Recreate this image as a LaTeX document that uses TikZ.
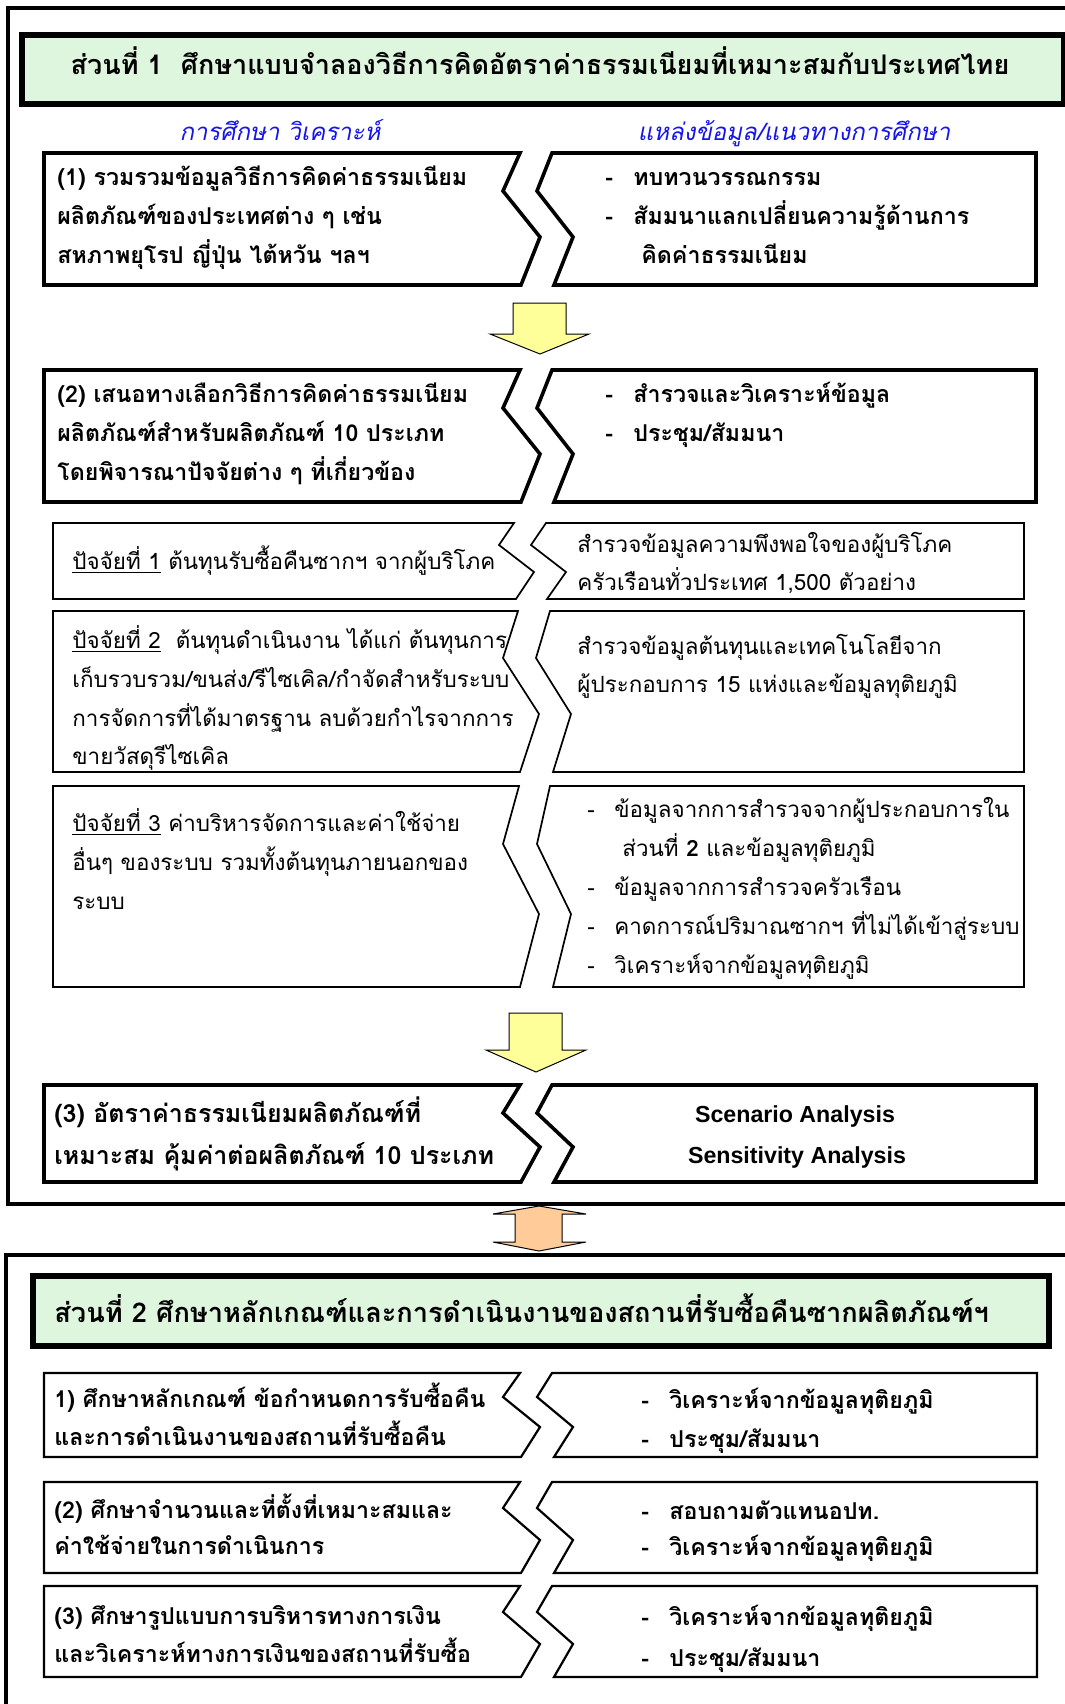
\documentclass[tikz,border=0pt]{standalone}
\usepackage{fontspec}
\usepackage{xcolor}
\usepackage{tikz}
\usetikzlibrary{backgrounds}
\newfontfamily\thaifont[Script=Thai]{Loma}
\newfontfamily\thaiitfont[Script=Thai,FakeSlant=0.2]{Loma}
\newfontfamily\latinfont{Liberation Sans}
\definecolor{titlegreen}{RGB}{222,245,222}
\definecolor{headblue}{RGB}{20,20,235}
\definecolor{arrowyellow}{RGB}{255,255,153}
\definecolor{arroworange}{RGB}{255,204,153}
\pgfdeclarelayer{edgelayer}
\pgfdeclarelayer{nodelayer}
\pgfsetlayers{background,edgelayer,nodelayer,main}
\tikzstyle{none}=[inner sep=0mm]
\tikzstyle{txt}=[inner sep=0mm,anchor=mid west,yshift=-2.2pt,font=\thaifont\fontsize{11.2}{14}\selectfont]
\tikzstyle{bold txt}=[txt,font=\thaifont\bfseries\fontsize{11.6}{14}\selectfont]
\tikzstyle{big txt}=[txt,font=\thaifont\bfseries\fontsize{12.5}{15}\selectfont]
\tikzstyle{title}=[inner sep=0mm,anchor=mid,yshift=-2.5pt,font=\thaifont\bfseries\fontsize{13.5}{16}\selectfont]
\tikzstyle{sub head}=[inner sep=0mm,anchor=mid,yshift=-1.5pt,text=headblue,font=\thaiitfont\fontsize{12}{14}\selectfont]
\tikzstyle{latin txt}=[inner sep=0mm,anchor=mid,yshift=-1pt,font=\latinfont\bfseries\fontsize{11.6}{14}\selectfont]
\tikzstyle{frame}=[draw=black,line width=2pt]
\tikzstyle{title box}=[draw=black,line width=3.2pt,fill=titlegreen]
\tikzstyle{main box}=[draw=black,line width=1.8pt,fill=white]
\tikzstyle{factor box}=[draw=black,line width=0.85pt,fill=white]
\tikzstyle{part box}=[draw=black,line width=1.1pt,fill=white]
\tikzstyle{down arrow}=[draw=black,line width=0.5pt,fill=arrowyellow]
\tikzstyle{both arrow}=[draw=black,line width=0.5pt,fill=arroworange]

\begin{document}
\begin{tikzpicture}[x=0.5pt,y=-0.5pt]
	\useasboundingbox (0,0) rectangle (1065,1704);
	\begin{pgfonlayer}{nodelayer}
		% part 1
		\node [style=title] (0) at (540,65) {ส่วนที่ 1 \ ศึกษาแบบจำลองวิธีการคิดอัตราค่าธรรมเนียมที่เหมาะสมกับประเทศไทย};
		\node [style=sub head] (1) at (280,133) {การศึกษา วิเคราะห์};
		\node [style=sub head] (2) at (794,133) {แหล่งข้อมูล/แนวทางการศึกษา};
		\node [style=bold txt] (3) at (57,177) {(1) รวมรวมข้อมูลวิธีการคิดค่าธรรมเนียม};
		\node [style=bold txt] (4) at (57,216) {ผลิตภัณฑ์ของประเทศต่าง ๆ เช่น};
		\node [style=bold txt] (5) at (57,255) {สหภาพยุโรป ญี่ปุ่น ไต้หวัน ฯลฯ};
		\node [style=bold txt] (6) at (605,177) {-};
		\node [style=bold txt] (7) at (633,177) {ทบทวนวรรณกรรม};
		\node [style=bold txt] (8) at (605,216) {-};
		\node [style=bold txt] (9) at (633,216) {สัมมนาแลกเปลี่ยนความรู้ด้านการ};
		\node [style=bold txt] (10) at (641,255) {คิดค่าธรรมเนียม};
		\node [style=bold txt] (11) at (57,394) {(2) เสนอทางเลือกวิธีการคิดค่าธรรมเนียม};
		\node [style=bold txt] (12) at (57,433) {ผลิตภัณฑ์สำหรับผลิตภัณฑ์ 10 ประเภท};
		\node [style=bold txt] (13) at (57,472) {โดยพิจารณาปัจจัยต่าง ๆ ที่เกี่ยวข้อง};
		\node [style=bold txt] (14) at (605,394) {-};
		\node [style=bold txt] (15) at (633,394) {สำรวจและวิเคราะห์ข้อมูล};
		\node [style=bold txt] (16) at (605,433) {-};
		\node [style=bold txt] (17) at (633,433) {ประชุม/สัมมนา};
		\node [style=txt] (18) at (72,561) {\underline{ปัจจัยที่ 1} ต้นทุนรับซื้อคืนซากฯ จากผู้บริโภค};
		\node [style=txt] (19) at (577,544) {สำรวจข้อมูลความพึงพอใจของผู้บริโภค};
		\node [style=txt] (20) at (577,582) {ครัวเรือนทั่วประเทศ 1,500 ตัวอย่าง};
		\node [style=txt] (21) at (72,640) {\underline{ปัจจัยที่ 2} \ ต้นทุนดำเนินงาน ได้แก่ ต้นทุนการ};
		\node [style=txt] (22) at (72,679) {เก็บรวบรวม/ขนส่ง/รีไซเคิล/กำจัดสำหรับระบบ};
		\node [style=txt] (23) at (72,718) {การจัดการที่ได้มาตรฐาน ลบด้วยกำไรจากการ};
		\node [style=txt] (24) at (72,756) {ขายวัสดุรีไซเคิล};
		\node [style=txt] (25) at (577,646) {สำรวจข้อมูลต้นทุนและเทคโนโลยีจาก};
		\node [style=txt] (26) at (577,684) {ผู้ประกอบการ 15 แห่งและข้อมูลทุติยภูมิ};
		\node [style=txt] (27) at (72,823) {\underline{ปัจจัยที่ 3} ค่าบริหารจัดการและค่าใช้จ่าย};
		\node [style=txt] (28) at (72,862) {อื่นๆ ของระบบ รวมทั้งต้นทุนภายนอกของ};
		\node [style=txt] (29) at (72,901) {ระบบ};
		\node [style=txt] (30) at (587,809) {-};
		\node [style=txt] (31) at (614,809) {ข้อมูลจากการสำรวจจากผู้ประกอบการใน};
		\node [style=txt] (32) at (622,848) {ส่วนที่ \textbf{2} และข้อมูลทุติยภูมิ};
		\node [style=txt] (33) at (587,887) {-};
		\node [style=txt] (34) at (614,887) {ข้อมูลจากการสำรวจครัวเรือน};
		\node [style=txt] (35) at (587,926) {-};
		\node [style=txt] (36) at (614,926) {คาดการณ์ปริมาณซากฯ ที่ไม่ได้เข้าสู่ระบบ};
		\node [style=txt] (37) at (587,965) {-};
		\node [style=txt] (38) at (614,965) {วิเคราะห์จากข้อมูลทุติยภูมิ};
		\node [style=big txt] (39) at (54,1114) {(3) อัตราค่าธรรมเนียมผลิตภัณฑ์ที่};
		\node [style=big txt] (40) at (54,1156) {เหมาะสม คุ้มค่าต่อผลิตภัณฑ์ 10 ประเภท};
		\node [style=latin txt] (41) at (795,1116) {Scenario Analysis};
		\node [style=latin txt] (42) at (797,1157) {Sensitivity Analysis};
		% part 2
		\node [style=bold txt,font=\thaifont\bfseries\fontsize{13.6}{16}\selectfont] (43) at (54,1314) {ส่วนที่ 2 ศึกษาหลักเกณฑ์และการดำเนินงานของสถานที่รับซื้อคืนซากผลิตภัณฑ์ฯ};
		\node [style=bold txt] (44) at (54,1399) {1) ศึกษาหลักเกณฑ์ ข้อกำหนดการรับซื้อคืน};
		\node [style=bold txt] (45) at (54,1437) {และการดำเนินงานของสถานที่รับซื้อคืน};
		\node [style=bold txt] (46) at (641,1400) {-};
		\node [style=bold txt] (47) at (669,1400) {วิเคราะห์จากข้อมูลทุติยภูมิ};
		\node [style=bold txt] (48) at (641,1439) {-};
		\node [style=bold txt] (49) at (669,1439) {ประชุม/สัมมนา};
		\node [style=bold txt] (50) at (54,1510) {(2) ศึกษาจำนวนและที่ตั้งที่เหมาะสมและ};
		\node [style=bold txt] (51) at (54,1546) {ค่าใช้จ่ายในการดำเนินการ};
		\node [style=bold txt] (52) at (641,1511) {-};
		\node [style=bold txt] (53) at (669,1511) {สอบถามตัวแทนอปท.};
		\node [style=bold txt] (54) at (641,1547) {-};
		\node [style=bold txt] (55) at (669,1547) {วิเคราะห์จากข้อมูลทุติยภูมิ};
		\node [style=bold txt] (56) at (54,1616) {(3) ศึกษารูปแบบการบริหารทางการเงิน};
		\node [style=bold txt] (57) at (54,1654) {และวิเคราะห์ทางการเงินของสถานที่รับซื้อ};
		\node [style=bold txt] (58) at (641,1617) {-};
		\node [style=bold txt] (59) at (669,1617) {วิเคราะห์จากข้อมูลทุติยภูมิ};
		\node [style=bold txt] (60) at (641,1658) {-};
		\node [style=bold txt] (61) at (669,1658) {ประชุม/สัมมนา};
	\end{pgfonlayer}
	\begin{pgfonlayer}{edgelayer}
		\draw [style=frame] (8,8) rectangle (1080,1204);
		\draw [style=frame] (6,1255) rectangle (1080,1720);
		\draw [style=title box] (22,35) rectangle (1064,104);
		\draw [style=title box] (33,1276) rectangle (1049,1346);
		% rows of part 1
		\draw [style=main box] (44,153) -- (520,153) -- (503,191) -- (540,237) -- (521,285) -- (44,285) -- cycle;
		\draw [style=main box] (552,153) -- (1036,153) -- (1036,285) -- (554,285) -- (573,237) -- (537,191) -- cycle;
		\draw [style=main box] (44,370) -- (520,370) -- (503,408) -- (540,454) -- (521,502) -- (44,502) -- cycle;
		\draw [style=main box] (552,370) -- (1036,370) -- (1036,502) -- (554,502) -- (573,454) -- (537,408) -- cycle;
		\draw [style=factor box] (53,523) -- (514,523) -- (499,545) -- (534,572) -- (516,599) -- (53,599) -- cycle;
		\draw [style=factor box] (546,523) -- (1024,523) -- (1024,599) -- (547,599) -- (566,572) -- (531,545) -- cycle;
		\draw [style=factor box] (53,611) -- (518,611) -- (503,658) -- (539,714) -- (520,772) -- (53,772) -- cycle;
		\draw [style=factor box] (550,611) -- (1024,611) -- (1024,772) -- (553,772) -- (571,714) -- (536,658) -- cycle;
		\draw [style=factor box] (53,786) -- (519,786) -- (503,844) -- (539,914) -- (520,987) -- (53,987) -- cycle;
		\draw [style=factor box] (550,786) -- (1024,786) -- (1024,987) -- (553,987) -- (571,914) -- (537,844) -- cycle;
		\draw [style=main box] (44,1085) -- (520,1085) -- (503,1113) -- (540,1147) -- (521,1182) -- (44,1182) -- cycle;
		\draw [style=main box] (552,1085) -- (1036,1085) -- (1036,1182) -- (554,1182) -- (573,1147) -- (537,1113) -- cycle;
		% rows of part 2
		\draw [style=part box] (44,1373) -- (520,1373) -- (503,1397) -- (540,1427) -- (521,1457) -- (44,1457) -- cycle;
		\draw [style=part box] (552,1373) -- (1037,1373) -- (1037,1457) -- (554,1457) -- (573,1427) -- (537,1397) -- cycle;
		\draw [style=part box] (44,1482) -- (520,1482) -- (503,1508) -- (540,1540) -- (521,1573) -- (44,1573) -- cycle;
		\draw [style=part box] (552,1482) -- (1037,1482) -- (1037,1573) -- (554,1573) -- (573,1540) -- (537,1508) -- cycle;
		\draw [style=part box] (44,1586) -- (520,1586) -- (503,1612) -- (540,1644) -- (521,1677) -- (44,1677) -- cycle;
		\draw [style=part box] (552,1586) -- (1037,1586) -- (1037,1677) -- (554,1677) -- (573,1644) -- (537,1612) -- cycle;
		% block arrows
		\draw [style=down arrow] (513,303) -- (566,303) -- (566,334) -- (589,334) -- (540,354) -- (490,334) -- (513,334) -- cycle;
		\draw [style=down arrow] (509,1013) -- (562,1013) -- (562,1050) -- (586,1050) -- (536,1072) -- (486,1050) -- (509,1050) -- cycle;
		\draw [style=both arrow] (539,1206) -- (586,1214) -- (562,1214) -- (562,1242) -- (586,1242) -- (539,1251) -- (493,1242) -- (515,1242) -- (515,1214) -- (493,1214) -- cycle;
	\end{pgfonlayer}
\end{tikzpicture}
\end{document}
